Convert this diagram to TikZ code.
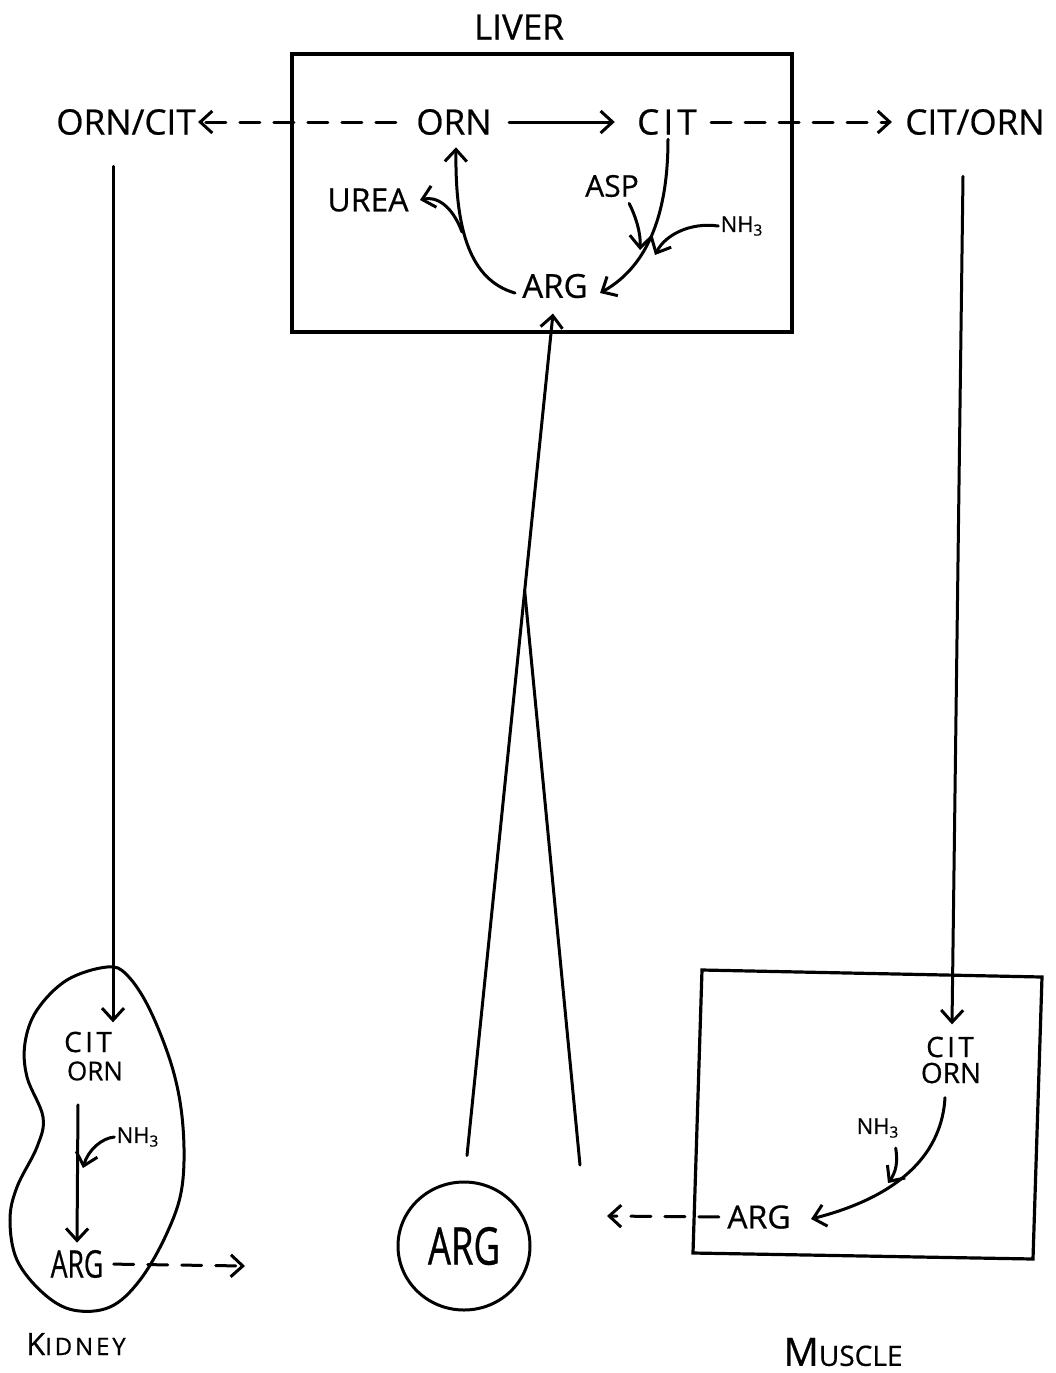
\documentclass[tikz,border=0pt]{standalone}
\usepackage{fontspec}
\setmainfont[FakeBold=0.6]{Open Sans}
\newfontfamily\narrowf[FakeStretch=0.7,FakeBold=0.6]{Open Sans}
\newfontfamily\widef[LetterSpace=12,FakeBold=0.6]{Open Sans}
\usetikzlibrary{arrows.meta,calc,shapes.geometric}
\begin{document}
\begin{tikzpicture}[x=0.5pt,y=-0.5pt,
  every node/.style={inner sep=1pt},
  ln/.style={line width=1.5pt},
  arr/.style={line width=1.5pt,line cap=round,-{Straight Barb[length=6pt,width=11pt]}},
  dasharr/.style={arr,dash pattern=on 10pt off 7pt},
  fA/.style={font=\fontsize{17.5}{20}\selectfont},
  fU/.style={font=\fontsize{16}{19}\selectfont},
  fS/.style={font=\fontsize{15}{18}\selectfont},
  fN/.style={font=\fontsize{11}{13}\selectfont},
  fK/.style={font=\fontsize{14}{16}\selectfont},
  fM/.style={font=\fontsize{16}{18}\selectfont}]
\useasboundingbox (0,0) rectangle (1056,1373);

% ---------- LIVER ----------
\node[fA] (liver) at (519,27) {LIVER};
\draw[line width=1.6pt] (292,54) rectangle (792,332);
\node[fA] (orn) at (454,122) {ORN};
\node[fA] (cit) at (667,122) {\widef CIT};
\node[fA] (orncit) at (126,122) {ORN/CIT};
\node[fA] (citorn) at (975,122) {CIT/ORN};
\node[fU] (urea) at (368,200) {UREA};
\node[fS] (asp) at (612,186) {ASP};
\node[fN] (nha) at (742,226) {NH\textsubscript{3}};
\node[fA,font=\fontsize{16.5}{19}\selectfont] (arga) at (555,286) {ARG};

\draw[arr,shorten <=7.5pt,shorten >=10pt] (orn) -- (cit);
\draw[dasharr,shorten <=9pt] (orn.west) -- (orncit.east);
\draw[dasharr,shorten <=6pt,shorten >=5.5pt] (cit.east) -- (citorn.west);

\draw[arr] ($(cit.south)+(1,2)$) .. controls (668,210) and (650,265) .. ($(arga.east)+(10,7)$);
\coordinate (aspend) at (640,250);
\draw[arr] ($(asp.south east)+(-12,4)$) .. controls (635,215) and (641,232) .. (aspend);
\coordinate (nhaend) at (655,255);
\draw[arr] (nha.west) .. controls (690,222) and (665,235) .. (nhaend);
\draw[arr] ($(arga.west)+(-5,7)$) .. controls (470,280) and (455,230) .. ($(orn.south)+(2,10)$);
\coordinate (branch) at (462,232);
\draw[arr] (branch) .. controls (452,205) and (436,196) .. ($(urea.east)+(9,0)$);

% ---------- central ARG ----------
\node[draw,ellipse,line width=1.5pt,minimum width=66pt,minimum height=64pt,
      font=\fontsize{26}{30}\selectfont\narrowf] (bigarg) at (464,1246) {ARG};
\coordinate (lstart) at ($(bigarg.north)+(3,-25)$);
\coordinate (rstart) at (580,1165);
\coordinate (apex) at (524.6,590);
\draw[arr] (lstart) -- ($(arga.south)+(-2,13)$);
\draw[ln,line cap=round] (rstart) -- (apex);

% ---------- KIDNEY ----------
\draw[ln] plot[smooth cycle,tension=0.6] coordinates {
  (107,967) (127,975) (150,1010) (173,1070) (183,1127) (182,1187)
  (167,1233) (140,1280) (110,1307) (73,1310) (43,1293) (17,1260)
  (10,1220) (17,1187) (37,1147) (43,1117) (27,1077) (25,1043)
  (37,1010) (67,980)};
\node[fK] (kcit) at (88,1042) {\widef CIT};
\node[fK,font=\fontsize{13}{15}\selectfont] (korn) at (95,1071) {ORN};
\node[fN] (knh) at (138,1137) {NH\textsubscript{3}};
\node[font=\fontsize{19}{21}\selectfont\narrowf] (karg) at (77,1264) {ARG};
\draw[arr] ($(orncit.south)+(-13,29)$) -- ($(kcit.north)+(25,-7)$);
\draw[arr] ($(korn.south)+(-17,22)$) -- ($(karg.north)+(0,-5)$);
\coordinate (knhend) at (83,1168);
\draw[arr] (knh.west) .. controls (102,1138) and (88,1150) .. (knhend);
\coordinate (kout) at (245,1266);
\draw[dasharr,shorten <=4pt] (karg.east) -- (kout);
\node[font=\fontsize{12}{14}\selectfont\widef] (kidney) at (76,1344)
  {{\fontsize{15.4}{18}\selectfont K}IDNEY};

% ---------- MUSCLE ----------
\draw[line width=1.6pt] (702,970) -- (1042,977) -- (1033,1259) -- (693,1253) -- cycle;
\node[fK] (mcit) at (950,1047) {\widef CIT};
\node[fK] (morn) at (951,1073) {ORN};
\node[fN] (mnh) at (878,1128) {NH\textsubscript{3}};
\node[fM] (marg) at (759,1217) {ARG};
\draw[arr] ($(citorn.south)+(-12,39)$) -- ($(mcit.north)+(2,-10)$);
\draw[arr] ($(morn.south)+(-6,12)$) .. controls (942,1150) and (905,1195) .. ($(marg.east)+(18,2)$);
\coordinate (mnhend) at (888,1183);
\draw[arr] ($(mnh.south east)+(-6,8)$) .. controls (898,1162) and (896,1172) .. (mnhend);
\coordinate (mout) at (607,1216);
\draw[dasharr,shorten <=3pt] (marg.west) -- (mout);
\node[font=\fontsize{14}{16}\selectfont] (muscle) at (843,1352)
  {{\fontsize{19.6}{22}\selectfont M}USCLE};
\end{tikzpicture}
\end{document}
